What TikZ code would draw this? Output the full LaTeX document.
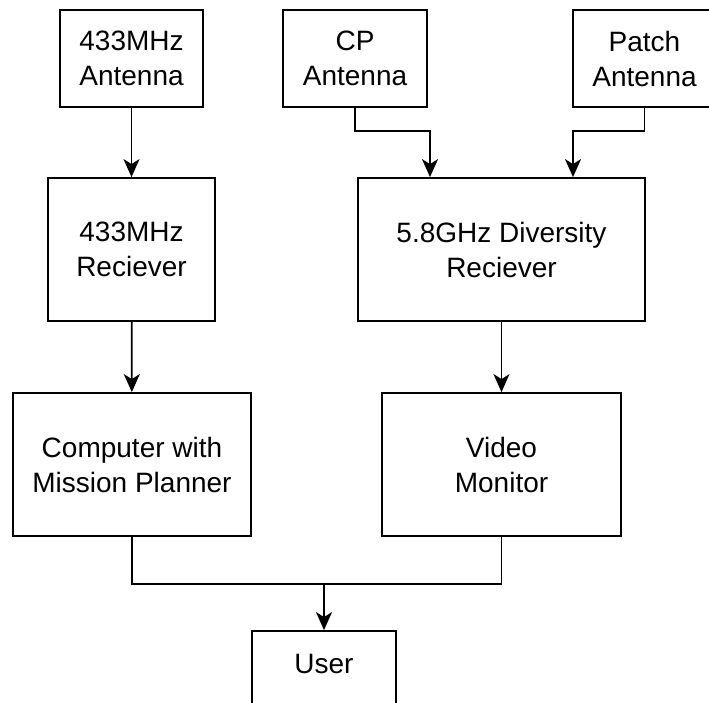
\documentclass[tikz,border=0pt]{standalone}
\usepackage{fontspec}
\setmainfont{Liberation Sans}
\usetikzlibrary{arrows.meta,calc,positioning}

\begin{document}
\begin{tikzpicture}[x=1pt,y=1pt,line width=1.8pt,
  font=\fontsize{28}{35}\selectfont,
  blk/.style={draw,rectangle,align=center,inner sep=0pt,minimum height=143pt},
  ant/.style={blk,minimum height=97pt},
  arr/.style={-{Stealth[length=18pt,width=16pt,inset=5pt]}}]
\useasboundingbox (0,0) rectangle (709,702);
\clip (0,0) rectangle (709,702);
% antennas
\node[ant,minimum width=143pt] (ant433) at (131.5,643.5) {433MHz\\Antenna};
\node[ant,minimum width=144pt] (antcp) at (355,643.5) {CP\\Antenna};
\node[ant,minimum width=143pt] (antpatch) at (644.5,643.5) {Patch\\Antenna};
% receivers
\node[blk,minimum width=167pt] (rx433) at (131.5,452.5) {433MHz\\Reciever};
\node[blk,minimum width=287pt] (rxdiv) at (501.5,452.5) {5.8GHz Diversity\\Reciever};
% ground side
\node[blk,minimum width=238pt] (pc) at (132,237.5) {Computer with\\Mission Planner};
\node[blk,minimum width=239pt] (mon) at (501.5,237.5) {Video\\Monitor};
\node[ant,minimum width=144pt,text depth=32pt] (user) at (324,22.5) {User};
\coordinate (join) at ([yshift=-47pt]pc.south -| user.north);

\draw[arr] (ant433) -- (rx433);
\draw[arr] (antcp.south) -- ++(0,-23) -| ([xshift=-71.5pt]rxdiv.north);
\draw[arr] (antpatch.south) -- ++(0,-23) -| ([xshift=71.5pt]rxdiv.north);
\draw[arr] (rx433) -- (pc);
\draw[arr] (rxdiv) -- (mon);
\draw (pc.south) -- ++(0,-47) -| (mon.south);
\draw[arr] (join) -- (user);
\end{tikzpicture}
\end{document}
